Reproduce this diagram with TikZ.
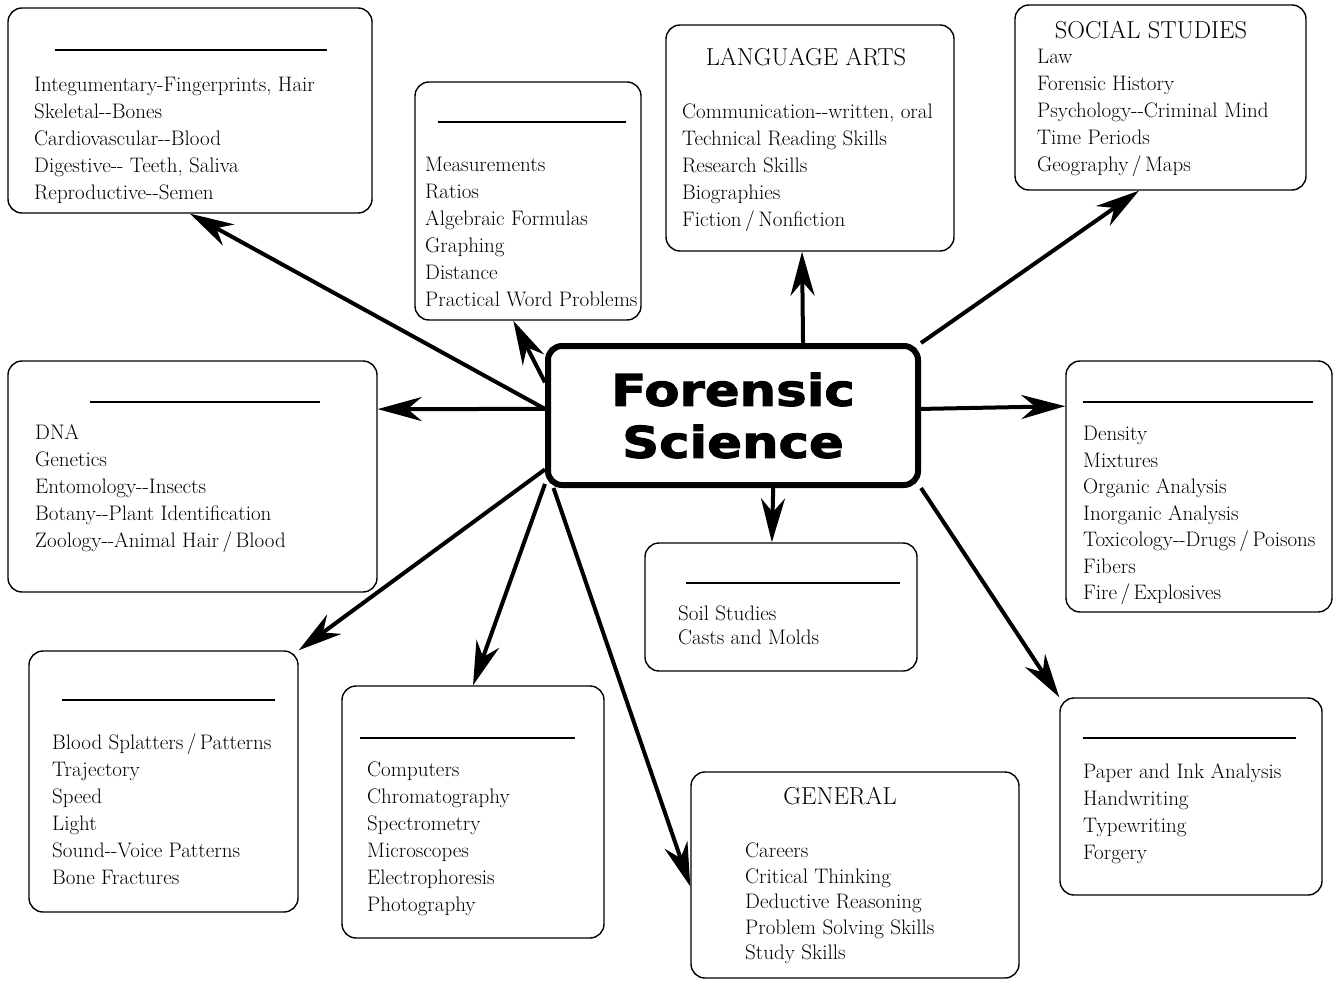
\documentclass[tikz,border=0pt]{standalone}
\usepackage{fontspec}
\usetikzlibrary{arrows.meta}
\newfontfamily\hubfont{DejaVu Sans}[FakeStretch=1.18,FakeBold=2.5]
\begin{document}
\begin{tikzpicture}[x=1pt,y=-1pt,
  topic/.style={draw, line width=1.4pt, rounded corners=14pt, inner sep=0pt},
  hub/.style={draw, line width=6pt, rounded corners=14pt, align=center, inner sep=0pt,
    font=\hubfont\bfseries\fontsize{43.5}{52}\selectfont},
  items/.style={anchor=north west, align=left, inner sep=0pt,
    font=\fontsize{21}{27}\selectfont},
  heading/.style={inner sep=0pt, font=\fontsize{24.5}{28}\selectfont},
  blank/.style={line width=1.6pt},
  link/.style={-{Stealth[length=44pt,width=24pt,inset=14pt]}, line width=4pt}]
\useasboundingbox (0,0) rectangle (1335,981);
% the hub
\node[hub, minimum width=370pt, minimum height=139pt] (fs) at (733,415.5) {Forensic\\Science};
% boxes round it
\node[topic, minimum width=364pt, minimum height=205pt] (anat) at (190,110.5) {};
\node[topic, minimum width=226pt, minimum height=238pt] (math) at (528,201) {};
\node[topic, minimum width=288pt, minimum height=226pt] (lang) at (810,138) {};
\node[topic, minimum width=291pt, minimum height=185pt] (social) at (1160.5,97.5) {};
\node[topic, minimum width=369pt, minimum height=231pt] (bio) at (192.5,476.5) {};
\node[topic, minimum width=266pt, minimum height=251pt] (chem) at (1199,486.5) {};
\node[topic, minimum width=272pt, minimum height=128pt] (soil) at (781,607) {};
\node[topic, minimum width=269pt, minimum height=261pt] (phys) at (163.5,781.5) {};
\node[topic, minimum width=262pt, minimum height=252pt] (tech) at (473,812) {};
\node[topic, minimum width=328pt, minimum height=206pt] (general) at (855,875) {};
\node[topic, minimum width=262pt, minimum height=197pt] (docs) at (1191,796.5) {};
% headings and blanks
\node[heading] (langhead) at (806,57) {LANGUAGE ARTS};
\node[heading] (socialhead) at (1151,30) {SOCIAL STUDIES};
\node[heading] (generalhead) at (840,796) {GENERAL};
\draw[blank] (55,50) -- (327,50);
\draw[blank] (438,122) -- (626,122);
\draw[blank] (90,402) -- (320,402);
\draw[blank] (1083,402) -- (1313,402);
\draw[blank] (686,583) -- (900,583);
\draw[blank] (62,700) -- (275,700);
\draw[blank] (360,738) -- (575,738);
\draw[blank] (1083,738) -- (1296,738);
% lists
\node[items] (anatlist) at (34,77) {Integumentary-Fingerprints, Hair\\Skeletal-{}-Bones\\Cardiovascular-{}-Blood\\Digestive-{}-  Teeth, Saliva\\Reproductive-{}-Semen};
\node[items] (mathlist) at (425,157) {Measurements\\Ratios\\Algebraic Formulas\\Graphing\\Distance\\Practical Word Problems};
\node[items] (langlist) at (682,104) {Communication-{}-written, oral\\Technical Reading Skills\\Research Skills\\Biographies\\Fiction\,/\,Nonfiction};
\node[items] (sociallist) at (1037,49) {Law\\Forensic History\\Psychology-{}-Criminal Mind\\Time Periods\\Geography\,/\,Maps};
\node[items] (biolist) at (35,424) {DNA\\Genetics\\Entomology-{}-Insects\\Botany-{}-Plant Identification\\Zoology-{}-Animal Hair\,/\,Blood};
\node[items, font=\fontsize{21}{26.5}\selectfont] (chemlist) at (1083,426) {Density\\Mixtures\\Organic Analysis\\Inorganic Analysis\\Toxicology-{}-Drugs\,/\,Poisons\\Fibers\\Fire\,/\,Explosives};
\node[items, font=\fontsize{21}{24}\selectfont] (soillist) at (678,606) {Soil Studies\\Casts and Molds};
\node[items] (physlist) at (52,734) {Blood Splatters\,/\,Patterns\\Trajectory\\Speed\\Light\\Sound-{}-Voice Patterns\\Bone Fractures};
\node[items] (techlist) at (367,762) {Computers\\Chromatography\\Spectrometry\\Microscopes\\Electrophoresis\\Photography};
\node[items, font=\fontsize{21}{25.5}\selectfont] (generallist) at (745,843) {Careers\\Critical Thinking\\Deductive Reasoning\\Problem Solving Skills\\Study Skills};
\node[items] (docslist) at (1083,763) {Paper and Ink Analysis\\Handwriting\\Typewriting\\Forgery};
% arrows out of the hub
\draw[link] (fs.178) -- (anat.south);
\draw[link] (fs.170) -- (math.263);
\draw[link] (fs.46) -- (lang.266.3);
\draw[link] (fs.north east) -- (social.257.5);
\draw[link] (fs.178) -- (bio.20);
\draw[link] (fs.2) -- (chem.149.5);
\draw[link] (fs.299) -- (soil.98.9);
\draw[link] (fs.196) -- (phys.north east);
\draw[link] (fs.200) -- (tech.north);
\draw[link] (fs.202) -- (general.184.5);
\draw[link] (fs.south east) -- (docs.north west);
\end{tikzpicture}
\end{document}
